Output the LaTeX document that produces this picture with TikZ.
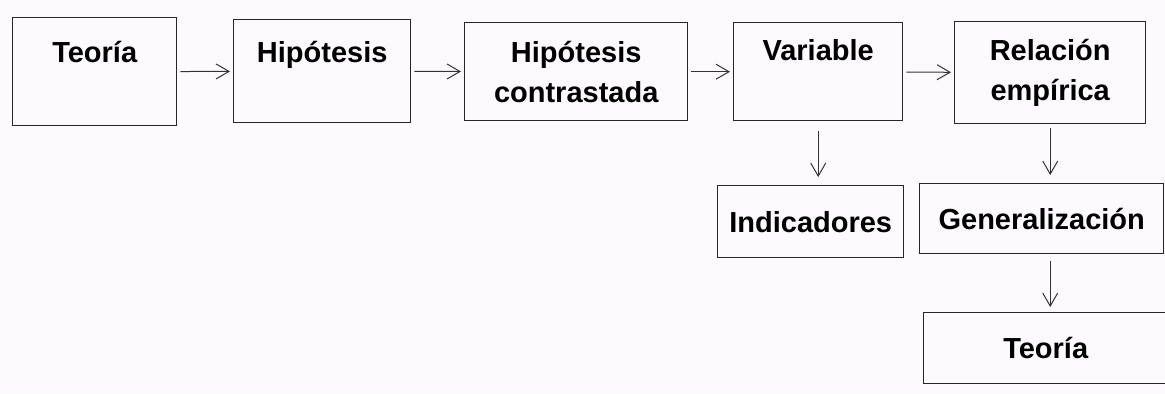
\documentclass[tikz,border=0pt]{standalone}
\usepackage{fontspec}
\setmainfont{Liberation Sans}
\usetikzlibrary{arrows.meta}
\definecolor{paper}{RGB}{253,250,253}
\tikzstyle{box} = [rectangle, draw=black!85, line width=0.7pt, inner sep=0pt, align=center, anchor=north west, font=\bfseries\fontsize{14.5}{20}\selectfont]
\tikzstyle{flow} = [->, >={Straight Barb[length=6.5pt,width=7.5pt]}, line width=0.5pt, black!80, shorten <=1.5pt, shorten >=1.5pt]

\begin{document}
\begin{tikzpicture}[x=0.5pt, y=-0.5pt]

    \fill [paper] (0,0) rectangle (1165,393);
    \useasboundingbox (0,0) rectangle (1165,393);

    % upper row
    \node (teoria) [box, minimum width=82pt, text height=22.5pt, text depth=31.5pt] at (12,17) {Teoría};
    \node (hipotesis) [box, minimum width=88.5pt, text height=21.5pt, text depth=30pt] at (233,19) {Hipótesis};
    \node (contrastada) [box, minimum width=111.5pt, minimum height=49pt] at (464,22) {Hipótesis\\contrastada};
    \node (variable) [box, minimum width=84.5pt, text height=19pt, text depth=30pt] at (733,22) {Variable};
    \node (relacion) [box, minimum width=95.5pt, minimum height=51pt] at (954,21) {Relación\\empírica};

    % lower boxes
    \node (indicadores) [box, minimum width=93pt, minimum height=36pt] at (717,185) {Indicadores};
    \node (generalizacion) [box, minimum width=122pt, minimum height=35pt] at (919,183) {Generalización};
    \node (teoriab) [box, minimum width=122pt, minimum height=35.5pt] at (923,312) {Teoría};

    \draw [flow] (teoria) -- (hipotesis);
    \draw [flow] (hipotesis) -- (contrastada);
    \draw [flow] (contrastada) -- (variable);
    \draw [flow] (variable) -- (relacion);

    \draw [flow, shorten <=5pt, shorten >=4pt] (variable.south) -- (variable.south |- indicadores.north);
    \draw [flow, shorten <=2pt, shorten >=4pt] (relacion.south) -- (relacion.south |- generalizacion.north);
    \draw [flow, shorten <=3.5pt, shorten >=2.5pt] (generalizacion.south -| relacion.south) -- (teoriab.north -| relacion.south);

\end{tikzpicture}
\end{document}
